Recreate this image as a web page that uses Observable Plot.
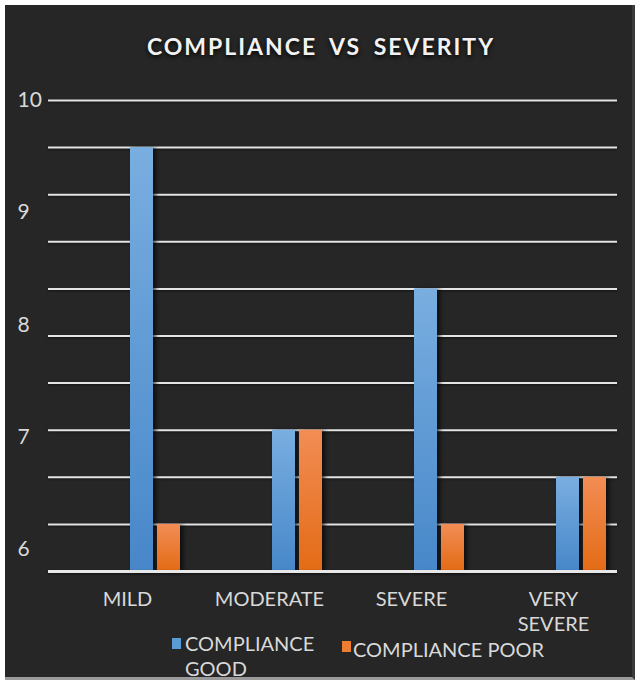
<!DOCTYPE html>
<html>
<head>
<meta charset="utf-8">
<script src="https://cdn.jsdelivr.net/npm/d3@7"></script>
<script src="https://cdn.jsdelivr.net/npm/@observablehq/plot@0.6"></script>
<style>
  html, body { margin: 0; padding: 0; background: #ffffff; }
  body { width: 635px; height: 680px; position: relative; overflow: hidden; font-family: Lato, sans-serif; }
  #panel { position: absolute; left: 5px; top: 5px; width: 627px; height: 672px; background: #262626;
           border-right: 3px solid #3a3a3a; border-bottom: 3px solid #9a9a9a; }
  #title { position: absolute; left: 5px; width: 632px; top: 31px; text-align: center; color: #f2f2f2;
           font-weight: 700; font-size: 23px; letter-spacing: 2px; word-spacing: 5px; line-height: 30px;
           text-shadow: 0 2px 4px rgba(0,0,0,0.9); }
  .chart { position: absolute; left: 0; top: 70px; }
  .legend-item { position: absolute; color: #d9d9d9; font-size: 20px; line-height: 24.5px; }
  .swatch { position: absolute; width: 9px; height: 11px; }
</style>
</head>
<body>
<div id="panel"></div>
<div id="title">COMPLIANCE VS SEVERITY</div>
<div id="bars" class="chart"></div>
<div id="ylabels" class="chart"></div>
<div class="swatch" style="left:172px; top:638px; background:#5b9bd5;"></div>
<div class="legend-item" style="left:185px; top:631px;">COMPLIANCE<br>GOOD</div>
<div class="swatch" style="left:342px; top:641px; background:#ed7d31;"></div>
<div class="legend-item" style="left:353px; top:637px;">COMPLIANCE POOR</div>
<script>
// Severity categories and compliance values per category
const categories = ["MILD", "MODERATE", "SEVERE", "VERY SEVERE"];
const complianceGood = [9.5, 6.5, 8, 6];
const compliancePoor = [5.5, 6.5, 5.5, 6];

// Horizontal gridlines and the value axis labels
const gridValues = [5, 5.5, 6, 6.5, 7, 7.5, 8, 8.5, 9, 9.5, 10];
const yTickLabels = [6, 7, 8, 9, 10];
const yLabelDomain = [5.8, 10];

const rows = categories.map((c, i) => ({category: c, good: complianceGood[i], poor: compliancePoor[i]}));

const W = 635, H = 560;
const margins = {marginLeft: 48, marginRight: 18, marginTop: 30, marginBottom: 59};
const textColor = "#d9d9d9";

const chart = Plot.plot({
  width: W, height: H, ...margins,
  style: {background: "transparent", fontFamily: "Lato, sans-serif", overflow: "visible"},
  x: {type: "band", domain: categories, range: [83, 652], padding: 0},
  y: {domain: [5, 10]},
  marks: [
    Plot.ruleY(gridValues.filter(v => v > 5), {stroke: "#e4e4e4", strokeWidth: 2}),
    Plot.barY(rows, {x: "category", y1: 5, y2: "good", fill: "url(#gradGood)", insetLeft: 46, insetRight: 73}),
    Plot.barY(rows, {x: "category", y1: 5, y2: "poor", fill: "url(#gradPoor)", insetLeft: 73, insetRight: 46}),
    Plot.ruleY([5], {stroke: "#e8e8e8", strokeWidth: 3}),
    Plot.axisX({tickSize: 0, tickPadding: 17, dx: -28, fontSize: 20, fill: textColor, lineHeight: 1.23,
                tickFormat: d => d.replace(" ", "\n"), label: null}),
    Plot.axisY({ticks: [], label: null, tickSize: 0})
  ]
});

// Vertical gradients for the bars
const defs = d3.select(chart).insert("defs", ":first-child");
[["gradGood", "#79aee0", "#4787c9"], ["gradPoor", "#f28d55", "#e36b15"]].forEach(([id, top, bottom]) => {
  const g = defs.append("linearGradient").attr("id", id).attr("x1", 0).attr("y1", 0).attr("x2", 0).attr("y2", 1);
  g.append("stop").attr("offset", "0%").attr("stop-color", top);
  g.append("stop").attr("offset", "100%").attr("stop-color", bottom);
});
d3.select(chart).selectAll("g[aria-label='bar'] rect").style("filter", "drop-shadow(3px 1px 2px rgba(0,0,0,0.65))");
d3.select(chart).selectAll("g[aria-label='rule'] line").style("filter", "drop-shadow(0px 1px 1px rgba(0,0,0,0.5))");
document.getElementById("bars").appendChild(chart);

// Value axis labels, drawn on their own scale over the bars
const labels = Plot.plot({
  width: W, height: H, ...margins,
  style: {background: "transparent", fontFamily: "Lato, sans-serif"},
  y: {domain: yLabelDomain},
  marks: [
    Plot.axisY({ticks: yTickLabels, tickFormat: d => String(d), tickSize: 0, tickPadding: 31,
                textAnchor: "start", fontSize: 21, fill: textColor, label: null})
  ]
});
document.getElementById("ylabels").appendChild(labels);
</script>
</body>
</html>
